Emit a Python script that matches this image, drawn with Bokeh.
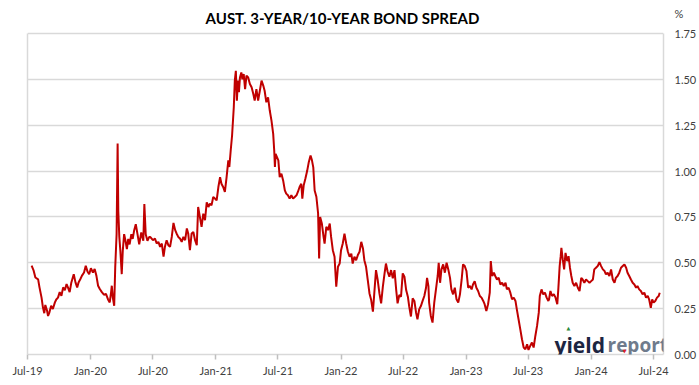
import pandas as pd
from bokeh.plotting import figure
from bokeh.models import (Range1d, FixedTicker, DatetimeTickFormatter, LinearAxis, Grid,
                          NumeralTickFormatter, Label, ColumnDataSource)
from bokeh.embed import file_html
from bokeh.resources import INLINE

TITLE = "AUST. 3-YEAR/10-YEAR BOND SPREAD"
UNIT = "%"
START = "2019-07-01"
X_END = "2024-07-30"

# days since 1 Jul 2019
day_offset = [
    12, 18, 23, 31, 35, 41, 45, 49, 52, 57, 60, 64, 69, 74, 80, 84, 89, 94, 99, 104,
    109, 114, 118, 123, 128, 135, 140, 145, 149, 154, 159, 165, 170, 175, 180, 185, 191, 196, 201, 206,
    211, 217, 223, 229, 235, 240, 244, 246, 249, 253, 256, 260, 263, 265, 268, 271, 275, 278, 282, 286,
    290, 294, 298, 303, 307, 311, 316, 321, 326, 332, 338, 341, 345, 350, 355,
    358, 366, 372, 377, 382, 387, 392, 397, 401, 406, 411, 416, 421, 426, 431, 435, 440, 445, 450, 455,
    460, 465, 469, 474, 479, 484, 489, 494, 498, 503, 508, 513, 518, 523, 528, 532, 537, 542, 547, 552,
    557, 562, 566, 571, 576, 581, 586, 589, 593, 597, 602, 605, 608, 611, 614, 617, 620, 624, 627, 631,
    635, 639, 644, 649, 654, 659, 663, 668, 673, 678, 683, 688, 692, 697, 702, 707, 712, 717, 720, 722,
    724, 728, 732, 736, 741, 746,
    751, 755, 760, 765, 770, 775, 780, 785, 789, 794, 799, 802, 806, 811, 816, 821, 826, 830, 834, 838,
    843, 848, 851, 854, 859, 864, 867, 872, 877, 882, 886, 891, 896, 901, 906, 911, 915, 920, 925, 930,
    935, 940, 945, 949, 954, 959, 964, 969, 974, 979, 983, 988, 993, 998, 1003, 1008, 1012, 1017, 1022, 1027,
    1032, 1037, 1042, 1046, 1051, 1056, 1061, 1066, 1071, 1076, 1080, 1085, 1090, 1095, 1100, 1105, 1110, 1114, 1119, 1124,
    1129, 1134, 1138, 1143, 1148, 1153, 1158, 1163, 1166, 1170, 1172, 1177, 1182, 1187, 1192, 1197, 1200, 1204, 1208, 1213,
    1218, 1223, 1228, 1233, 1237, 1242, 1247, 1252, 1257, 1262, 1267, 1271, 1276, 1281, 1286, 1291, 1296, 1300, 1305, 1310,
    1315, 1320, 1325, 1330, 1334, 1339, 1344, 1349, 1352, 1356, 1361, 1365, 1370, 1375, 1380, 1385, 1390, 1395, 1399, 1404,
    1409, 1414, 1419, 1424, 1428, 1433, 1438, 1443, 1448, 1453, 1458, 1462, 1467, 1472, 1477, 1482, 1487, 1492, 1495, 1500,
    1505, 1510, 1515, 1520,
    1522, 1526, 1531, 1536, 1541, 1546, 1549, 1553, 1556, 1558, 1562, 1566, 1570, 1575, 1579, 1583, 1587, 1591, 1596, 1601,
    1606, 1611, 1616, 1620, 1625, 1630, 1635, 1640, 1645, 1650, 1654, 1659, 1664, 1669, 1674, 1679, 1684, 1688, 1693, 1698,
    1703, 1708, 1713, 1717, 1722, 1727, 1732, 1737, 1742, 1747, 1751, 1756, 1761, 1766, 1771, 1776, 1780, 1785, 1790, 1795,
    1800, 1805, 1810, 1814, 1819, 1823, 1827, 1832, 1837, 1842, 1845,
]

spread = [
    0.484, 0.457, 0.42, 0.41, 0.366, 0.31, 0.257, 0.225, 0.27, 0.24, 0.21, 0.23, 0.266, 0.248, 0.284, 0.30, 0.31, 0.34, 0.32, 0.366,
    0.35, 0.384, 0.366, 0.34, 0.393, 0.438, 0.393, 0.366, 0.393, 0.41, 0.43, 0.447, 0.484, 0.453, 0.438, 0.47, 0.447, 0.466, 0.43, 0.375,
    0.357, 0.34, 0.326, 0.33, 0.30, 0.284, 0.34, 0.375, 0.31, 0.266, 0.475, 0.656, 1.15, 0.78, 0.64, 0.565, 0.438, 0.565, 0.656, 0.62,
    0.574, 0.63, 0.60, 0.656, 0.63, 0.674, 0.71, 0.656, 0.60, 0.665, 0.62, 0.82, 0.656, 0.62, 0.64,
    0.641, 0.623, 0.632, 0.605, 0.614, 0.587, 0.605, 0.533, 0.587, 0.623, 0.596, 0.587, 0.641, 0.717, 0.678, 0.66, 0.641, 0.632, 0.614, 0.641,
    0.623, 0.687, 0.66, 0.569, 0.66, 0.668, 0.623, 0.596, 0.804, 0.75, 0.696, 0.768, 0.732, 0.83, 0.804, 0.822, 0.813, 0.859, 0.85, 0.84,
    0.913, 0.967, 0.931, 0.913, 0.886, 0.967, 1.058, 1.022, 1.112, 1.194, 1.348, 1.493, 1.547, 1.384, 1.493, 1.43, 1.51, 1.538, 1.50, 1.529,
    1.447, 1.52, 1.51, 1.475, 1.457, 1.42, 1.384, 1.447, 1.384, 1.438, 1.493, 1.466, 1.438, 1.375, 1.402, 1.33, 1.275, 1.203, 1.112, 1.022,
    1.094, 1.076, 1.058, 0.967, 0.986, 0.949,
    0.895, 0.877, 0.868, 0.85, 0.868, 0.85, 0.859, 0.868, 0.886, 0.913, 0.931, 0.85, 0.922, 0.96, 1.00, 1.05, 1.085, 1.06, 1.02, 0.894,
    0.86, 0.77, 0.524, 0.75, 0.714, 0.641, 0.605, 0.696, 0.678, 0.714, 0.641, 0.569, 0.533, 0.37, 0.478, 0.496, 0.569, 0.605, 0.659, 0.605,
    0.56, 0.533, 0.55, 0.496, 0.533, 0.514, 0.542, 0.56, 0.614, 0.578, 0.514, 0.478, 0.406, 0.333, 0.297, 0.234, 0.333, 0.46, 0.406, 0.333,
    0.279, 0.37, 0.442, 0.496, 0.451, 0.424, 0.46, 0.415, 0.46, 0.351, 0.279, 0.324, 0.315, 0.442, 0.424, 0.351, 0.315, 0.261, 0.207, 0.306,
    0.292, 0.228, 0.192, 0.246, 0.264, 0.292, 0.319, 0.364, 0.418, 0.373, 0.283, 0.21, 0.174, 0.283, 0.355, 0.428, 0.5, 0.391, 0.464, 0.491,
    0.446, 0.5, 0.464, 0.418, 0.355, 0.328, 0.364, 0.301, 0.283, 0.328, 0.409, 0.491, 0.482, 0.455, 0.364, 0.373, 0.355, 0.382, 0.4, 0.364,
    0.346, 0.319, 0.31, 0.292, 0.274, 0.237, 0.274, 0.337, 0.509, 0.428, 0.446, 0.428, 0.409, 0.418, 0.382, 0.391, 0.373, 0.391, 0.355, 0.364,
    0.337, 0.301, 0.31, 0.292, 0.246, 0.192, 0.138, 0.083, 0.038, 0.029, 0.056, 0.025, 0.047, 0.065, 0.038, 0.101, 0.156, 0.228, 0.319, 0.355,
    0.328, 0.337, 0.31, 0.292,
    0.301, 0.346, 0.319, 0.328, 0.31, 0.274, 0.355, 0.482, 0.536, 0.582, 0.518, 0.464, 0.554, 0.509, 0.536, 0.473, 0.428, 0.391, 0.373, 0.391,
    0.364, 0.346, 0.418, 0.409, 0.391, 0.409, 0.4, 0.391, 0.4, 0.409, 0.464, 0.473, 0.482, 0.504, 0.482, 0.464, 0.455, 0.437, 0.446, 0.428,
    0.464, 0.409, 0.391, 0.418, 0.428, 0.446, 0.473, 0.482, 0.491, 0.473, 0.446, 0.428, 0.409, 0.391, 0.382, 0.364, 0.373, 0.355, 0.346, 0.328,
    0.337, 0.31, 0.319, 0.301, 0.255, 0.301, 0.283, 0.292, 0.31, 0.319, 0.337,
]

x_tick_dates = ["2019-07-01", "2020-01-01", "2020-07-01", "2021-01-01", "2021-07-01",
                "2022-01-01", "2022-07-01", "2023-01-01", "2023-07-01", "2024-01-01", "2024-07-01"]
y_ticks = [0.0, 0.25, 0.5, 0.75, 1.0, 1.25, 1.5, 1.75]
Y_MAX = 1.75

# layout (pixels): the frame runs to the top of the canvas so that the title
# and the "%" unit label (which sit above the 1.75 line) can be drawn inside it
W, H = 699, 385
B_LEFT, B_RIGHT, B_BOTTOM = 27, 34, 31
PLOT_TOP = 33                       # pixel row of the 1.75 gridline
frame_h = H - B_BOTTOM
y_end = Y_MAX * frame_h / (frame_h - PLOT_TOP)
unit_tick = round(Y_MAX * (frame_h - 13) / (frame_h - PLOT_TOP), 2)   # row of the "%" label

dates = pd.Timestamp(START) + pd.to_timedelta(day_offset, unit="D")
src = ColumnDataSource(dict(date=dates, spread=spread))

GRID = "#d9d9d9"
FONT = "Lato"
LABEL_COLOR = "#404040"

p = figure(width=W, height=H, x_axis_type="datetime", y_axis_location=None, title=None,
           output_backend="svg", toolbar_location=None,
           x_range=Range1d(pd.Timestamp(START), pd.Timestamp(X_END)),
           y_range=Range1d(0, y_end),
           min_border_left=B_LEFT, min_border_right=B_RIGHT, min_border_top=0,
           min_border_bottom=B_BOTTOM)

p.line("date", "spread", source=src, line_color="#c00000", line_width=2)

p.outline_line_color = None
p.background_fill_color = "white"
p.border_fill_color = "white"

# grid lines at the value ticks only
p.xgrid.visible = False
if len(p.ygrid) == 0:
    p.add_layout(Grid(dimension=1, ticker=FixedTicker(ticks=y_ticks)))
for g in p.ygrid:
    g.ticker = FixedTicker(ticks=y_ticks)
    g.grid_line_color = GRID
    g.grid_line_width = 1.5


def border_axis():
    ax = LinearAxis(bounds=(0, Y_MAX), ticker=FixedTicker(ticks=[]))
    ax.axis_line_color = GRID
    ax.axis_line_width = 1.5
    ax.major_tick_line_color = None
    ax.minor_tick_line_color = None
    ax.major_tick_in = 0
    ax.major_tick_out = 0
    ax.major_label_text_font_size = "0px"
    return ax


# left and right plot-area borders (0 .. 1.75 only)
p.add_layout(border_axis(), "left")
p.add_layout(border_axis(), "right")

# value axis labels on the right, with the "%" unit on top
yax = LinearAxis(ticker=FixedTicker(ticks=y_ticks + [unit_tick]),
                 formatter=NumeralTickFormatter(format="0.00"))
yax.major_label_overrides = {unit_tick: UNIT}
yax.axis_line_color = None
yax.major_tick_line_color = None
yax.minor_tick_line_color = None
yax.major_tick_in = 0
yax.major_tick_out = 0
yax.major_label_standoff = 11
yax.major_label_text_font = FONT
yax.major_label_text_font_size = "11px"
yax.major_label_text_color = LABEL_COLOR
p.add_layout(yax, "right")

# date axis
xt = [pd.Timestamp(d).value / 1e6 for d in x_tick_dates]
p.xaxis.ticker = FixedTicker(ticks=xt)
fmt = "%b-%y"
p.xaxis.formatter = DatetimeTickFormatter(milliseconds=fmt, seconds=fmt, minsec=fmt, minutes=fmt,
                                          hourmin=fmt, hours=fmt, days=fmt, months=fmt, years=fmt)
p.xaxis.axis_line_color = GRID
p.xaxis.axis_line_width = 1.5
p.xaxis.major_tick_line_color = "#bfbfbf"
p.xaxis.major_tick_line_width = 1.5
p.xaxis.major_tick_in = 0
p.xaxis.major_tick_out = 5
p.xaxis.minor_tick_line_color = None
p.xaxis.major_label_standoff = 4
p.xaxis.major_label_text_font = FONT
p.xaxis.major_label_text_font_size = "11px"
p.xaxis.major_label_text_color = LABEL_COLOR

# title (screen units relative to the frame: x from left, y from bottom)
p.add_layout(Label(x=315, y=frame_h - 17, x_units="screen", y_units="screen", text=TITLE,
                   text_font=FONT, text_font_style="bold", text_font_size="15px",
                   text_color="#000000", text_align="center", text_baseline="middle"))

# yieldreport logo
p.add_layout(Label(x=527, y=10, x_units="screen", y_units="screen", text="yield",
                   text_font="Open Sans", text_font_style="bold", text_font_size="21px",
                   text_color="#1c2541", text_align="left", text_baseline="alphabetic"))
p.add_layout(Label(x=580, y=10, x_units="screen", y_units="screen", text="report",
                   text_font="Open Sans", text_font_style="bold", text_font_size="19px",
                   text_color="#6f7b8c", text_align="left", text_baseline="alphabetic"))
p.add_layout(Label(x=541, y=27, x_units="screen", y_units="screen", text="\u25b2",
                   text_font="DejaVu Sans", text_font_size="5px",
                   text_color="#2e8b3a", text_align="center", text_baseline="middle"))
p.add_layout(Label(x=597, y=4, x_units="screen", y_units="screen", text="\u25bc",
                   text_font="DejaVu Sans", text_font_size="5px",
                   text_color="#e0202a", text_align="center", text_baseline="middle"))

open("out.html", "w").write(file_html(p, INLINE))
